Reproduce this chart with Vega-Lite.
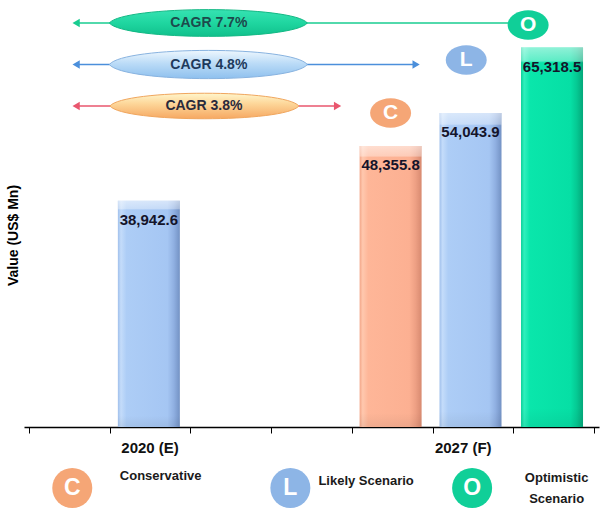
{
  "$schema": "https://vega.github.io/schema/vega-lite/v6.json",
  "width": 575,
  "height": 420,
  "autosize": {"type": "none"},
  "padding": {"left": 24, "top": 7, "right": 9, "bottom": 91},
  "background": "white",
  "config": {"view": {"stroke": null}, "font": "Liberation Sans"},
  "datasets": {
    "bars": [
      {"period": "2020 (E)", "scenario": "L", "x": 1.485, "value": 38942.6, "label": "38,942.6"},
      {"period": "2027 (F)", "scenario": "C", "x": 4.48, "value": 48355.8, "label": "48,355.8"},
      {"period": "2027 (F)", "scenario": "L", "x": 5.47, "value": 54043.9, "label": "54,043.9"},
      {"period": "2027 (F)", "scenario": "O", "x": 6.48, "value": 65318.5, "label": "65,318.5"}
    ],
    "cagr": [
      {"scenario": "O", "text": "CAGR 7.7%", "from": 0.584, "to": 6.184, "cx": 2.222, "tx": 2.228, "y": 69547},
      {"scenario": "L", "text": "CAGR 4.8%", "from": 0.584, "to": 4.796, "cx": 2.222, "tx": 2.228, "y": 62400},
      {"scenario": "C", "text": "CAGR 3.8%", "from": 0.584, "to": 3.823, "cx": 2.173, "tx": 2.167, "y": 55259}
    ],
    "heads": [
      {"scenario": "O", "dir": "left", "x": 0.584, "y": 69547},
      {"scenario": "L", "dir": "left", "x": 0.584, "y": 62400},
      {"scenario": "L", "dir": "right", "x": 4.796, "y": 62400},
      {"scenario": "C", "dir": "left", "x": 0.584, "y": 55259},
      {"scenario": "C", "dir": "right", "x": 3.823, "y": 55259}
    ],
    "badges": [
      {"scenario": "O", "letter": "O", "x": 6.184, "y": 69202},
      {"scenario": "L", "letter": "L", "x": 5.417, "y": 63178},
      {"scenario": "C", "letter": "C", "x": 4.48, "y": 54054}
    ],
    "legend": [
      {"scenario": "C", "letter": "C", "name": "Conservative", "x": 0.536, "y": -10501, "tx": 1.631, "ty": -8435},
      {"scenario": "L", "letter": "L", "name": "Likely Scenario", "x": 3.238, "y": -10501, "tx": 4.176, "ty": -9296},
      {"scenario": "O", "letter": "O", "name": "Optimistic\nScenario", "x": 5.49, "y": -10501, "tx": 6.537, "ty": -8780}
    ],
    "periods": [
      {"period": "2020 (E)", "x": 1.5, "y": -3615},
      {"period": "2027 (F)", "x": 5.38, "y": -3615}
    ]
  },
  "layer": [
    {
      "data": {"name": "bars"},
      "transform": [{"filter": "datum.scenario === 'L'"}],
      "mark": {"type": "bar", "size": 62, "color": {"gradient": "linear", "x1": 0, "y1": 0, "x2": 1, "y2": 0, "stops": [
        {"offset": 0, "color": "#a0c0ec"}, {"offset": 0.05, "color": "#c4dcfa"}, {"offset": 0.14, "color": "#adcdf6"},
        {"offset": 0.8, "color": "#a5c6f3"}, {"offset": 0.9, "color": "#90b0e2"}, {"offset": 1, "color": "#7392c4"}]}},
      "encoding": {
        "x": {"field": "x", "type": "quantitative", "scale": {"domain": [0, 7], "nice": false, "zero": false},
          "axis": {"values": [0, 1, 2, 3, 4, 5, 6, 7], "labels": false, "title": null, "grid": false, "domainColor": "#000", "domainWidth": 1.5, "tickColor": "#000", "tickSize": 6, "tickWidth": 1}},
        "y": {"field": "value", "type": "quantitative", "scale": {"domain": [0, 72300], "nice": false},
          "axis": {"title": "Value (US$ Mn)", "labels": false, "ticks": false, "domain": false, "grid": false, "titleFont": "Liberation Sans", "titleFontSize": 14, "titleFontWeight": "bold", "titleColor": "#000", "titleX": -11, "titleY": 228, "titleAngle": -90, "titleAlign": "center", "titleBaseline": "middle"}}
      }
    },
    {
      "data": {"name": "bars"},
      "transform": [{"filter": "datum.scenario === 'C'"}],
      "mark": {"type": "bar", "size": 62, "color": {"gradient": "linear", "x1": 0, "y1": 0, "x2": 1, "y2": 0, "stops": [
        {"offset": 0, "color": "#f3a688"}, {"offset": 0.05, "color": "#ffc8ae"}, {"offset": 0.14, "color": "#feb698"},
        {"offset": 0.8, "color": "#fcb092"}, {"offset": 0.9, "color": "#eea084"}, {"offset": 1, "color": "#d88a70"}]}},
      "encoding": {
        "x": {"field": "x", "type": "quantitative", "axis": null},
        "y": {"field": "value", "type": "quantitative", "axis": null}
      }
    },
    {
      "data": {"name": "bars"},
      "transform": [{"filter": "datum.scenario === 'O'"}],
      "mark": {"type": "bar", "size": 62, "color": {"gradient": "linear", "x1": 0, "y1": 0, "x2": 1, "y2": 0, "stops": [
        {"offset": 0, "color": "#08cf98"}, {"offset": 0.05, "color": "#30f0bd"}, {"offset": 0.14, "color": "#0ae6ab"},
        {"offset": 0.8, "color": "#06dfa5"}, {"offset": 0.9, "color": "#05c993"}, {"offset": 1, "color": "#04a87a"}]}},
      "encoding": {
        "x": {"field": "x", "type": "quantitative", "axis": null},
        "y": {"field": "value", "type": "quantitative", "axis": null}
      }
    },
    {
      "data": {"name": "bars"},
      "mark": {"type": "bar", "size": 62, "color": {"gradient": "linear", "x1": 0, "y1": 0, "x2": 0, "y2": 1, "stops": [
        {"offset": 0, "color": "rgba(255,255,255,0.55)"}, {"offset": 0.035, "color": "rgba(255,255,255,0.35)"},
        {"offset": 0.04, "color": "rgba(255,255,255,0)"}, {"offset": 0.95, "color": "rgba(0,0,0,0)"}, {"offset": 1, "color": "rgba(0,0,0,0.06)"}]}},
      "encoding": {
        "x": {"field": "x", "type": "quantitative", "axis": null},
        "y": {"field": "value", "type": "quantitative", "axis": null}
      }
    },
    {
      "data": {"name": "bars"},
      "mark": {"type": "text", "baseline": "middle", "align": "center", "dy": 19, "fontSize": 15, "fontWeight": "bold", "color": "#14142a", "font": "Liberation Sans"},
      "encoding": {
        "x": {"field": "x", "type": "quantitative", "axis": null},
        "y": {"field": "value", "type": "quantitative", "axis": null},
        "text": {"field": "label"}
      }
    },
    {
      "data": {"name": "cagr"},
      "mark": {"type": "rule", "strokeWidth": 1.6},
      "encoding": {
        "x": {"field": "from", "type": "quantitative", "axis": null},
        "x2": {"field": "to"},
        "y": {"field": "y", "type": "quantitative", "axis": null},
        "color": {"field": "scenario", "type": "nominal", "scale": {"domain": ["C", "L", "O"], "range": ["#e9566e", "#4b8fdb", "#19cc90"]}, "legend": null}
      }
    },
    {
      "data": {"name": "heads"},
      "mark": {"type": "point", "filled": true, "opacity": 1, "size": 70},
      "encoding": {
        "x": {"field": "x", "type": "quantitative", "axis": null},
        "y": {"field": "y", "type": "quantitative", "axis": null},
        "shape": {"field": "dir", "type": "nominal", "scale": {"domain": ["left", "right"], "range": ["triangle-left", "triangle-right"]}, "legend": null},
        "color": {"field": "scenario", "type": "nominal", "scale": {"domain": ["C", "L", "O"], "range": ["#e9566e", "#4b8fdb", "#19cc90"]}, "legend": null}
      }
    },
    {
      "data": {"name": "cagr"},
      "transform": [{"filter": "datum.scenario === 'O'"}],
      "mark": {"type": "point", "filled": true, "opacity": 1, "size": 39204, "stroke": "#12b884", "strokeWidth": 1,
        "shape": "M-1,0C-0.85,-0.18 0.85,-0.18 1,0C0.85,0.18 -0.85,0.18 -1,0Z",
        "fill": {"gradient": "linear", "x1": 0, "y1": 0, "x2": 0, "y2": 1, "stops": [{"offset": 0, "color": "#36e2b2"}, {"offset": 0.5, "color": "#1fd6a0"}, {"offset": 1, "color": "#10c08c"}]}},
      "encoding": {
        "x": {"field": "cx", "type": "quantitative", "axis": null},
        "y": {"field": "y", "type": "quantitative", "axis": null}
      }
    },
    {
      "data": {"name": "cagr"},
      "transform": [{"filter": "datum.scenario === 'L'"}],
      "mark": {"type": "point", "filled": true, "opacity": 1, "size": 39204, "stroke": "#88b3e0", "strokeWidth": 1,
        "shape": "M-1,0C-0.85,-0.19 0.85,-0.19 1,0C0.85,0.19 -0.85,0.19 -1,0Z",
        "fill": {"gradient": "linear", "x1": 0, "y1": 0, "x2": 0, "y2": 1, "stops": [{"offset": 0, "color": "#eef7fe"}, {"offset": 0.45, "color": "#bcdcf7"}, {"offset": 1, "color": "#8ec0ee"}]}},
      "encoding": {
        "x": {"field": "cx", "type": "quantitative", "axis": null},
        "y": {"field": "y", "type": "quantitative", "axis": null}
      }
    },
    {
      "data": {"name": "cagr"},
      "transform": [{"filter": "datum.scenario === 'C'"}],
      "mark": {"type": "point", "filled": true, "opacity": 1, "size": 35721, "stroke": "#f0a65e", "strokeWidth": 1,
        "shape": "M-1,0C-0.85,-0.18 0.85,-0.18 1,0C0.85,0.18 -0.85,0.18 -1,0Z",
        "fill": {"gradient": "linear", "x1": 0, "y1": 0, "x2": 0, "y2": 1, "stops": [{"offset": 0, "color": "#fff6cc"}, {"offset": 0.4, "color": "#fdd79a"}, {"offset": 1, "color": "#f6a862"}]}},
      "encoding": {
        "x": {"field": "cx", "type": "quantitative", "axis": null},
        "y": {"field": "y", "type": "quantitative", "axis": null}
      }
    },
    {
      "data": {"name": "cagr"},
      "mark": {"type": "text", "baseline": "middle", "align": "center", "fontSize": 14, "fontWeight": "bold", "font": "Liberation Sans"},
      "encoding": {
        "x": {"field": "tx", "type": "quantitative", "axis": null},
        "y": {"field": "y", "type": "quantitative", "axis": null},
        "text": {"field": "text"},
        "color": {"field": "scenario", "type": "nominal", "scale": {"domain": ["C", "L", "O"], "range": ["#2a2a3c", "#1e3a5c", "#1d4a4c"]}, "legend": null}
      }
    },
    {
      "data": {"name": "badges"},
      "mark": {"type": "point", "filled": true, "opacity": 1, "size": 1681, "shape": "M-1,0A1,0.72 0 1,1 1,0A1,0.72 0 1,1 -1,0Z"},
      "encoding": {
        "x": {"field": "x", "type": "quantitative", "axis": null},
        "y": {"field": "y", "type": "quantitative", "axis": null},
        "color": {"field": "scenario", "type": "nominal", "scale": {"domain": ["C", "L", "O"], "range": ["#f5a676", "#8db5e6", "#10cf98"]}, "legend": null}
      }
    },
    {
      "data": {"name": "badges"},
      "mark": {"type": "text", "baseline": "middle", "align": "center", "fontSize": 21, "fontWeight": "bold", "color": "white", "font": "Liberation Sans"},
      "encoding": {
        "x": {"field": "x", "type": "quantitative", "axis": null},
        "y": {"field": "y", "type": "quantitative", "axis": null},
        "text": {"field": "letter"}
      }
    },
    {
      "data": {"name": "legend"},
      "mark": {"type": "point", "filled": true, "opacity": 1, "size": 1600, "shape": "circle"},
      "encoding": {
        "x": {"field": "x", "type": "quantitative", "axis": null},
        "y": {"field": "y", "type": "quantitative", "axis": null},
        "color": {"field": "scenario", "type": "nominal", "scale": {"domain": ["C", "L", "O"], "range": ["#f5a676", "#8db5e6", "#10cf98"]}, "legend": null}
      }
    },
    {
      "data": {"name": "legend"},
      "mark": {"type": "text", "baseline": "middle", "align": "center", "fontSize": 23, "fontWeight": "bold", "color": "white", "font": "Liberation Sans"},
      "encoding": {
        "x": {"field": "x", "type": "quantitative", "axis": null},
        "y": {"field": "y", "type": "quantitative", "axis": null},
        "text": {"field": "letter"}
      }
    },
    {
      "data": {"name": "legend"},
      "mark": {"type": "text", "baseline": "middle", "align": "center", "fontSize": 13, "fontWeight": "bold", "color": "#1a1a1a", "font": "Liberation Sans", "lineBreak": "\n", "lineHeight": 21},
      "encoding": {
        "x": {"field": "tx", "type": "quantitative", "axis": null},
        "y": {"field": "ty", "type": "quantitative", "axis": null},
        "text": {"field": "name"}
      }
    },
    {
      "data": {"name": "periods"},
      "mark": {"type": "text", "baseline": "middle", "align": "center", "fontSize": 15, "fontWeight": "bold", "color": "#111", "font": "Liberation Sans"},
      "encoding": {
        "x": {"field": "x", "type": "quantitative", "axis": null},
        "y": {"field": "y", "type": "quantitative", "axis": null},
        "text": {"field": "period"}
      }
    }
  ],
  "resolve": {"scale": {"color": "independent"}, "axis": {"x": "independent", "y": "independent"}}
}
